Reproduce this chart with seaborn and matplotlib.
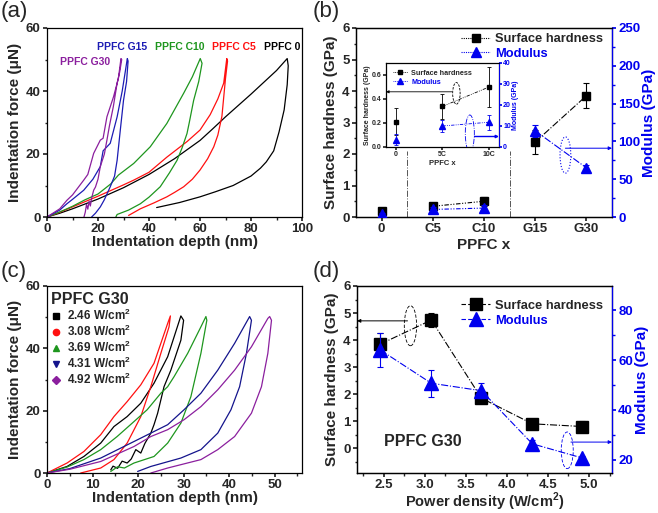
import numpy as np
import pandas as pd
import seaborn as sns
import matplotlib.pyplot as plt
from matplotlib.patches import Ellipse
from matplotlib.lines import Line2D
from matplotlib.ticker import AutoMinorLocator

# ---- panel (a): load / unload curves of the PPFC films ----
a_names = ["PPFC 0", "PPFC C5", "PPFC C10", "PPFC G15", "PPFC G30"]
a_depth = [
    [0, 5, 10, 20, 30, 40, 50, 60, 65, 70, 80, 86, 90, 94.2,
     94.6, 94.2, 93, 91, 88.9, 86, 83.7, 80, 73, 66, 60, 52, 43],
    [0, 5, 10, 20, 30, 34, 40, 47, 55, 60, 64, 67, 69.3, 70.5,
     70.8, 70, 68.6, 67, 65.4, 63, 60, 57, 53.6, 50, 47, 42, 36.6, 32],
    [0, 5, 10, 15, 20, 25, 28, 34, 40.5, 47, 53.6, 57, 60.1,
     60.8, 59.5, 57.5, 55.8, 54.9, 53, 51, 48, 44.4, 40, 36.6, 32, 27.5, 27],
    [0, 5, 7.8, 10, 14.4, 18, 20.9, 22, 24.8, 27.5, 29.5, 31.5,
     31.8, 31.2, 30, 28.8, 27.5, 26.5, 24.8, 22.5, 20.9, 19, 17.5],
    [0, 5, 7.8, 10, 14.4, 16, 18.3, 20.9, 22, 23.5, 26.1, 28, 29,
     29.3, 28.5, 27.5, 26, 24.5, 23.5, 22.5, 20.9, 20, 19, 18.3, 17.5, 17, 16.5, 16, 15.5, 15, 14.5],
]
a_force = [
    [0, 1.2, 2.6, 5.7, 9.3, 13.5, 18.5, 24.3, 28.0, 31.8, 39.0, 43.5, 46.5, 50.3,
     48, 42, 34, 27, 21, 17.5, 15.5, 13, 10, 8, 6.4, 4.6, 3],
    [0, 1.5, 3.2, 6.6, 10.2, 11.7, 14.2, 19, 24, 27.6, 32.5, 37.5, 42.5, 50.3,
     49.5, 44, 32, 26, 22.3, 18.5, 14.9, 12, 9.6, 7.8, 6.4, 4.5, 2.6, 0.5],
    [0, 1.6, 3.4, 5.5, 7.3, 10.5, 13.3, 17, 22.3, 29.7, 39.3, 44.5, 50.3,
     48.8, 43, 37, 30, 26.5, 22, 18, 14, 9.6, 6.3, 4.2, 2.2, 0.8, 0],
    [0, 2.2, 4.2, 5.6, 8.5, 12, 16, 21, 23.4, 31.8, 40, 50.3,
     49.5, 43, 37, 28, 18, 13, 9.6, 5.5, 3.2, 1.2, 0],
    [0, 2.6, 5.3, 7, 11.7, 13.5, 20.2, 24.4, 25, 31.8, 38.2, 44, 50.3,
     50, 46, 42.5, 35, 29, 24.4, 20, 16, 12, 9.5, 8.5, 6, 3.5, 5, 2.5, 4, 1.5, 0],
]
a_colors = ["black", "#FF1010", "#1E961E", "#1C1CB4", "#8B1F9E"]

# ---- panel (b): hardness / modulus vs PPFC x ----
b_labels = ["0", "C5", "C10", "G15", "G30"]
b_pos = [1, 2, 3, 4, 5]
b_hard = [0.2, 0.34, 0.5, 2.38, 3.85]
b_hard_err = [0.08, 0.06, 0.15, 0.37, 0.4]
b_mod = [3.5, 10, 11.8, 114, 65]
b_mod_err = [2, 3, 3.5, 8, 4]

# inset of (b)
in_x = [0, 5, 10]
in_labels = ["0", "5C", "10C"]
in_hard = [0.212, 0.338, 0.5]
in_hard_err = [0.11, 0.106, 0.17]
in_mod = [3.5, 10, 11.8]
in_mod_err = [2.5, 3, 3.5]

# ---- panel (c): PPFC G30 at different power densities ----
c_names = ["2.46 W/cm$^\\mathbf{2}$", "3.08 W/cm$^\\mathbf{2}$", "3.69 W/cm$^\\mathbf{2}$",
           "4.31 W/cm$^\\mathbf{2}$", "4.92 W/cm$^\\mathbf{2}$"]
c_depth = [
    [0, 4.4, 8.1, 11.8, 14.7, 17.6, 20.6, 23.5, 26.5, 29.4,
     30, 29.4, 27.2, 25.7, 24.3, 23.5, 22.8, 21.5, 20.6, 19.5, 18.5, 17.6, 16.5, 15.5, 14.5, 14],
    [0, 4.4, 8.1, 11.8, 14.7, 17.6, 20.6, 23.5, 26.5, 27.1,
     26.8, 25, 22.8, 20.6, 17.6, 14.7, 11.8, 7.4],
    [0, 4.4, 8.1, 11.8, 15.4, 19.1, 22, 25, 26.5, 27.9, 30.9, 33.8, 34.9,
     35.1, 33.8, 31.6, 29.4, 26.5, 23.5, 19.1, 17, 15.5, 14],
    [0, 5, 11.8, 19.1, 22.8, 26.5, 30.1, 33.8, 37.5, 41.2, 44.5,
     44.9, 43.8, 42.3, 40.4, 37.5, 33.8, 29.4, 22.8, 19.9],
    [0, 5, 11.8, 19.1, 22.8, 26.5, 30.1, 33.8, 37.5, 41.2, 44.9, 48.5, 48.9,
     49.3, 48.5, 47.1, 44.9, 41.2, 37.5, 33.8, 26.5, 22.8],
]
c_force = [
    [0, 2.1, 5.3, 9.6, 14.9, 18.1, 22.4, 28.8, 37.3, 50.4,
     49, 42.6, 33, 27.7, 19.2, 15.5, 12.8, 9.5, 6.4, 7.5, 4.5, 3.2, 3.8, 1.5, 2.2, 1],
    [0, 3.2, 6.9, 12.3, 18.1, 22.9, 28.3, 35.2, 48, 50.4,
     46.9, 38.4, 27.7, 18.1, 9.6, 4.3, 1.6, 0],
    [0, 1.9, 4.3, 7.5, 11.7, 16.5, 20.3, 25.6, 27.7, 30.9, 38.4, 46.9, 50.2,
     49, 38.4, 24.5, 16, 9.6, 5.3, 3.2, 1.6, 2.0, 0.5],
    [0, 1.4, 4.8, 10.1, 12.8, 15.5, 20.3, 25.6, 33, 41.6, 50.2,
     49, 38.4, 27.7, 20.3, 12.8, 7.5, 4.8, 2.1, 0.5],
    [0, 1.2, 3.7, 8.5, 11.7, 13.9, 17.1, 21.3, 26.7, 33, 40.5, 49.6, 50.2,
     49, 38.4, 27.7, 19.2, 11.7, 7.5, 4.3, 1.6, 0],
]
c_colors = ["black", "#FF1010", "#1E961E", "#14148C", "#8B1F9E"]
c_markers = ["s", "o", "^", "v", "D"]

# ---- panel (d): hardness / modulus vs power density ----
d_power = [2.46, 3.08, 3.69, 4.31, 4.92]
d_hard = [3.85, 4.74, 1.85, 0.9, 0.8]
d_hard_err = [0.4, 0.27, 0.18, 0.06, 0.2]
d_mod = [64, 50.7, 47.7, 26.4, 20.7]
d_mod_err = [6.7, 5.5, 3, 1.5, 1]

BLUE = "#0000EE"
W, H = 658, 513

sns.set_theme(style="ticks")
plt.rcParams["font.family"] = ["Liberation Sans", "DejaVu Sans"]
plt.rcParams.update({
    "font.weight": "bold", "axes.labelweight": "bold",
    "axes.labelsize": 11, "xtick.labelsize": 9.5, "ytick.labelsize": 9.5,
    "xtick.direction": "out", "ytick.direction": "out",
    "xtick.major.size": 3, "ytick.major.size": 3,
    "xtick.minor.size": 1.8, "ytick.minor.size": 1.8,
    "xtick.major.pad": 1.2, "ytick.major.pad": 1.5,
    "axes.linewidth": 0.9, "axes.edgecolor": "black",
    "mathtext.fontset": "custom", "mathtext.rm": "Liberation Sans",
    "mathtext.bf": "Liberation Sans:bold",
})


def rect(l, r, t, b):
    return [l / W, 1 - b / H, (r - l) / W, (b - t) / H]


def curves_df(names, depths, forces):
    rows = []
    for n, xs, ys in zip(names, depths, forces):
        for i, (x, y) in enumerate(zip(xs, ys)):
            rows.append({"sample": n, "depth": x, "force": y, "i": i})
    return pd.DataFrame(rows)


fig = plt.figure(figsize=(W / 100, H / 100), dpi=100)

# ---------------- (a) ----------------
axA = fig.add_axes(rect(47, 302, 28, 217))
dfa = curves_df(a_names, a_depth, a_force)
sns.lineplot(data=dfa, x="depth", y="force", hue="sample", palette=a_colors,
             sort=False, estimator=None, legend=False, lw=0.9, ax=axA)
axA.set_xlim(0, 100)
axA.set_ylim(0, 60)
axA.set_xticks(range(0, 101, 20))
axA.set_yticks(range(0, 61, 20))
axA.xaxis.set_minor_locator(AutoMinorLocator(2))
axA.yaxis.set_minor_locator(AutoMinorLocator(2))
axA.set_xlabel("Indentation depth (nm)", labelpad=0)
axA.set_ylabel("Indentation force (\u03bcN)", labelpad=3)
for txt, x, y, c in [("PPFC G15", 19.6, 54, a_colors[3]), ("PPFC C10", 42.5, 54, a_colors[2]),
                     ("PPFC C5", 64.7, 54, a_colors[1]), ("PPFC 0", 85, 54, a_colors[0]),
                     ("PPFC G30", 5.1, 49.3, a_colors[4])]:
    axA.text(x, y, txt, color=c, fontsize=7.5, fontweight="bold", va="center")

# ---------------- (b) ----------------
axB = fig.add_axes(rect(356, 612, 28, 217))
axB2 = axB.twinx()
axB.set_xlim(0.5, 5.5)
axB.set_ylim(0, 6)
axB2.set_ylim(0, 250)
axB.set_xticks(b_pos)
axB.set_xticklabels(b_labels)
axB.set_yticks(range(0, 7))
axB.yaxis.set_minor_locator(AutoMinorLocator(2))
axB2.set_yticks(range(0, 251, 50))
axB2.yaxis.set_minor_locator(AutoMinorLocator(2))
axB.set_xlabel("PPFC x", labelpad=2)
axB.set_ylabel("Surface hardness (GPa)", labelpad=3)
axB2.set_ylabel("Modulus (GPa)", color=BLUE, labelpad=1)
axB2.spines["right"].set_color(BLUE)
axB2.tick_params(axis="y", which="both", colors=BLUE)

dashdotdot = (0, (4, 1.5, 1, 1.5, 1, 1.5))
axB.plot(b_pos[1:3], b_hard[1:3], color="black", lw=0.8, ls=dashdotdot)
axB.plot(b_pos[3:5], b_hard[3:5], color="black", lw=0.8, ls="-.")
axB2.plot(b_pos[1:3], b_mod[1:3], color=BLUE, lw=0.8, ls=dashdotdot)
axB2.plot(b_pos[3:5], b_mod[3:5], color=BLUE, lw=0.8, ls="-.")
axB.errorbar(b_pos, b_hard, yerr=b_hard_err, fmt="s", color="black", ms=6,
             capsize=2.5, elinewidth=0.8, capthick=0.8, zorder=3)
axB2.errorbar(b_pos, b_mod, yerr=b_mod_err, fmt="^", color=BLUE, ms=7,
              capsize=2.5, elinewidth=0.8, capthick=0.8, zorder=3)
for xv in [1.5, 3.5]:
    axB.plot([xv, xv], [0, 2.1], color="#555555", lw=0.7, ls="-.")
axB2.add_patch(Ellipse((4.59, 82), 0.21, 48, fill=False, ec=BLUE, lw=0.8, ls=":"))
axB2.annotate("", xy=(5.5, 91), xytext=(4.59, 91),
              arrowprops=dict(arrowstyle="-|>", color=BLUE, lw=0.7, mutation_scale=5,
                              shrinkA=0, shrinkB=0))
hB = [Line2D([], [], color="black", ls=(0, (1, 1)), lw=0.8, marker="s", ms=6),
      Line2D([], [], color=BLUE, ls=(0, (1, 1)), lw=0.8, marker="^", ms=7)]
legB = axB.legend(hB, ["Surface hardness", "Modulus"], loc="upper right",
                  bbox_to_anchor=(1.01, 1.035), frameon=False, fontsize=9.3,
                  handlelength=2.2, handletextpad=0.4, labelspacing=0.2)
legB.get_texts()[1].set_color(BLUE)

# inset of (b)
axI = fig.add_axes(rect(386, 499, 63, 147))
axI2 = axI.twinx()
axI.set_facecolor("white")
axI.set_xlim(-1.05, 11.07)
axI.set_ylim(0, 0.7)
axI2.set_ylim(0, 40)
axI.set_xticks(in_x)
axI.set_xticklabels(in_labels)
axI.set_yticks([0.0, 0.2, 0.4, 0.6])
axI.set_yticklabels(["0.0", "0.2", "0.4", "0.6"])
axI2.set_yticks(range(0, 41, 10))
axI.tick_params(labelsize=5, length=2, pad=1)
axI2.tick_params(labelsize=5, length=2, pad=1, colors=BLUE)
axI.set_xlabel("PPFC x", fontsize=5.5, labelpad=1)
axI.set_ylabel("Surface hardness (GPa)", fontsize=5, labelpad=1)
axI2.set_ylabel("Modulus (GPa)", fontsize=5, color=BLUE, labelpad=1)
axI2.spines["right"].set_color(BLUE)
for s in ["left", "bottom", "top", "right"]:
    axI2.spines[s].set_linewidth(0.7)
axI.plot(in_x[1:], in_hard[1:], color="black", lw=0.6, ls=dashdotdot)
axI2.plot(in_x[1:], in_mod[1:], color=BLUE, lw=0.6, ls=dashdotdot)
axI.errorbar(in_x, in_hard, yerr=in_hard_err, fmt="s", color="black", ms=3.5,
             capsize=1.5, elinewidth=0.6, capthick=0.6, zorder=3)
axI2.errorbar(in_x, in_mod, yerr=in_mod_err, fmt="^", color=BLUE, ms=4,
              capsize=1.5, elinewidth=0.6, capthick=0.6, zorder=3)
axI.add_patch(Ellipse((6.5, 0.447), 0.8, 0.18, fill=False, ec="black", lw=0.6, ls=(0, (3, 1.5))))
axI2.add_patch(Ellipse((7.94, 6.5), 0.97, 17.5, fill=False, ec=BLUE, lw=0.6, ls="-."))
axI.annotate("", xy=(-1.05, 0.46), xytext=(6.0, 0.46),
             arrowprops=dict(arrowstyle="-|>", color="black", lw=0.6, mutation_scale=4,
                             shrinkA=0, shrinkB=0))
axI2.annotate("", xy=(11.07, 5), xytext=(8.45, 5),
              arrowprops=dict(arrowstyle="-|>", color=BLUE, lw=1.0, mutation_scale=4,
                              shrinkA=0, shrinkB=0))
hI = [Line2D([], [], color="black", ls=(0, (1, 1)), lw=0.6, marker="s", ms=3.5),
      Line2D([], [], color=BLUE, ls=(0, (1, 1)), lw=0.6, marker="^", ms=4)]
legI = axI.legend(hI, ["Surface hardness", "Modulus"], loc="upper left",
                  bbox_to_anchor=(0.0, 1.0), frameon=False, fontsize=5.2,
                  handlelength=2.2, handletextpad=0.4, labelspacing=0.3)
legI.get_texts()[1].set_color(BLUE)

# ---------------- (c) ----------------
axC = fig.add_axes(rect(47, 302, 286, 473))
dfc = curves_df(c_names, c_depth, c_force)
sns.lineplot(data=dfc, x="depth", y="force", hue="sample", palette=c_colors,
             sort=False, estimator=None, legend=False, lw=0.9, ax=axC)
axC.set_xlim(0, 56)
axC.set_ylim(0, 60)
axC.set_xticks(range(0, 51, 10))
axC.set_yticks(range(0, 61, 20))
axC.xaxis.set_minor_locator(AutoMinorLocator(2))
axC.yaxis.set_minor_locator(AutoMinorLocator(2))
axC.set_xlabel("Indentation depth (nm)", labelpad=0)
axC.set_ylabel("Indentation force (\u03bcN)", labelpad=3)
hC = [Line2D([], [], color=c, ls="none", marker=m, ms=4.5) for c, m in zip(c_colors, c_markers)]
legC = axC.legend(hC, c_names, loc="upper left", bbox_to_anchor=(-0.02, 1.02),
                  frameon=False, fontsize=8.5, title="PPFC G30",
                  title_fontproperties={"size": 11.5, "weight": "bold"},
                  alignment="left", handlelength=0.8, handletextpad=0.5,
                  labelspacing=0.08, borderpad=0.3)

# ---------------- (d) ----------------
axD = fig.add_axes(rect(357, 612, 286, 473))
axD2 = axD.twinx()
axD.set_xlim(2.175, 5.28)
axD.set_ylim(-0.92, 6)
axD2.set_ylim(14.7, 89.7)
axD.set_xticks([2.5, 3.0, 3.5, 4.0, 4.5, 5.0])
axD.set_yticks(range(0, 7))
axD.xaxis.set_minor_locator(AutoMinorLocator(2))
axD.yaxis.set_minor_locator(AutoMinorLocator(2))
axD2.set_yticks([20, 40, 60, 80])
axD2.yaxis.set_minor_locator(AutoMinorLocator(2))
axD.set_xlabel("Power density (W/cm$^\\mathbf{2}$)", fontsize=10.5, labelpad=0)
axD.set_ylabel("Surface hardness (GPa)", labelpad=3)
axD2.set_ylabel("Modulus (GPa)", color=BLUE, labelpad=1)
axD2.spines["right"].set_color(BLUE)
axD2.tick_params(axis="y", which="both", colors=BLUE)
axD.plot(d_power, d_hard, color="black", lw=0.8, ls="-.")
axD2.plot(d_power, d_mod, color=BLUE, lw=0.8, ls="-.")
axD.errorbar(d_power, d_hard, yerr=d_hard_err, fmt="s", color="black", ms=8.5,
             capsize=2.5, elinewidth=0.8, capthick=0.8, zorder=3)
axD2.errorbar(d_power, d_mod, yerr=d_mod_err, fmt="^", color=BLUE, ms=9.5,
              capsize=2.5, elinewidth=0.8, capthick=0.8, zorder=3)
axD.add_patch(Ellipse((2.826, 4.53), 0.15, 1.48, fill=False, ec="black", lw=0.6, ls=(0, (4, 2))))
axD2.add_patch(Ellipse((4.735, 23.8), 0.146, 14.7, fill=False, ec=BLUE, lw=0.6, ls=(0, (4, 2))))
axD.annotate("", xy=(2.175, 4.71), xytext=(2.79, 4.71),
             arrowprops=dict(arrowstyle="-|>", color="black", lw=0.7, mutation_scale=5,
                             shrinkA=0, shrinkB=0))
axD2.annotate("", xy=(5.28, 27.1), xytext=(4.78, 27.1),
              arrowprops=dict(arrowstyle="-|>", color=BLUE, lw=0.7, mutation_scale=5,
                              shrinkA=0, shrinkB=0))
axD.text(2.5, 0.25, "PPFC G30", fontsize=11.5, fontweight="bold", va="center")
hD = [Line2D([], [], color="black", ls=(0, (4, 2)), lw=0.8, marker="s", ms=8.5),
      Line2D([], [], color=BLUE, ls=(0, (4, 2)), lw=0.8, marker="^", ms=9.5)]
legD = axD.legend(hD, ["Surface hardness", "Modulus"], loc="upper right",
                  bbox_to_anchor=(1.01, 0.99), frameon=False, fontsize=9.3,
                  handlelength=2.2, handletextpad=0.4, labelspacing=0.25)
legD.get_texts()[1].set_color(BLUE)

for ax in [axA, axC]:
    ax.tick_params(which="both", top=False, right=False)

# panel letters
for lab, x, y in [("(a)", 1, 1), ("(b)", 313, 1), ("(c)", 1, 261), ("(d)", 313, 261)]:
    fig.text(x / W, 1 - y / H, lab, fontsize=16, fontweight="normal", va="top", ha="left")

fig.savefig("out.png", dpi=100)
